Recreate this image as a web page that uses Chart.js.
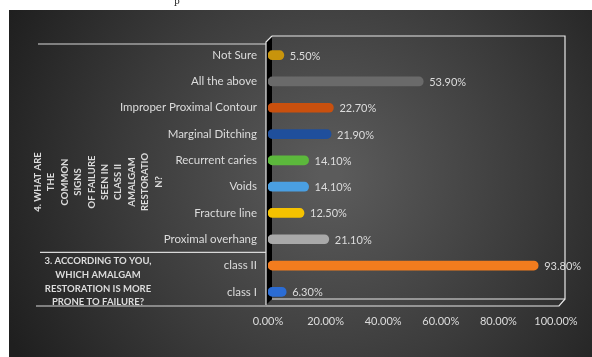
<!DOCTYPE html>
<html>
<head>
<meta charset="utf-8">
<script src="https://cdn.jsdelivr.net/npm/chart.js@4/dist/chart.umd.min.js"></script>
<style>
  html, body { margin: 0; padding: 0; background: #fff; }
  canvas { display: block; }
</style>
</head>
<body>
<canvas id="failureChart" width="592" height="357"></canvas>
<script>
// data, top row first
const categories = [
    'Not Sure',
    'All the above',
    'Improper Proximal Contour',
    'Marginal Ditching',
    'Recurrent caries',
    'Voids',
    'Fracture line',
    'Proximal overhang',
    'class II',
    'class I'
];
const percentValues = [5.5, 53.9, 22.7, 21.9, 14.1, 14.1, 12.5, 21.1, 93.8, 6.3];
const barColors = [
    '#c8940c', '#6a6a6a', '#c9500e', '#1f4f9c', '#5cb83c',
    '#4a9fe2', '#f5c200', '#a9a9a9', '#f27c1e', '#2b6cd4'
];
const xTicks = [0, 20, 40, 60, 80, 100];

const groupOneLines = ['4. WHAT ARE', 'THE', 'COMMON', 'SIGNS', 'OF FAILURE',
    'SEEN IN', 'CLASS II', 'AMALGAM', 'RESTORATIO', 'N?'];
const groupTwoLines = ['3. ACCORDING TO YOU,', 'WHICH AMALGAM',
    'RESTORATION IS MORE', 'PRONE TO FAILURE?'];

const textColor = '#dcdcdc';
const fontFamily = 'Lato, "Open Sans", sans-serif';

// dark radial backdrop with the white page margin
const backdrop = {
    id: 'backdrop',
    beforeDraw(chart) {
        const ctx = chart.ctx;
        ctx.save();
        ctx.fillStyle = '#ffffff';
        ctx.fillRect(0, 0, chart.width, chart.height);
        const g = ctx.createRadialGradient(330, 175, 10, 330, 175, 360);
        g.addColorStop(0, '#5b5b5b');
        g.addColorStop(0.55, '#3b3b3b');
        g.addColorStop(1, '#1f1f1f');
        ctx.fillStyle = g;
        ctx.fillRect(9, 10, chart.width - 9, chart.height - 10);
        // bit of the page text above
        ctx.fillStyle = '#222';
        ctx.font = '9px "DejaVu Serif", serif';
        ctx.textBaseline = 'alphabetic';
        ctx.fillText('p', 174, 4);
        ctx.restore();
    }
};

// 3D-ish frame: black side wall, back frame, floor
const frame3d = {
    id: 'frame3d',
    beforeDatasetsDraw(chart) {
        const ctx = chart.ctx;
        const a = chart.chartArea;
        const dx = 6, dy = 6;
        const x0 = a.left - 2, top = a.top;
        ctx.save();
        // side wall
        ctx.fillStyle = '#000';
        ctx.beginPath();
        ctx.moveTo(x0, top);
        ctx.lineTo(x0 + dx, top - dy);
        ctx.lineTo(x0 + dx, a.bottom - dy);
        ctx.lineTo(x0, a.bottom);
        ctx.closePath();
        ctx.fill();
        ctx.strokeStyle = '#e8e8e8';
        ctx.lineWidth = 1.2;
        // back frame
        ctx.beginPath();
        ctx.moveTo(x0 + dx, top - dy);
        ctx.lineTo(a.right + 9, top - dy);
        ctx.lineTo(a.right + 9, a.bottom - dy);
        ctx.lineTo(x0 + dx, a.bottom - dy);
        ctx.stroke();
        // wall front edge
        ctx.beginPath();
        ctx.moveTo(x0 + dx, top - dy);
        ctx.lineTo(x0, top);
        ctx.lineTo(x0, a.bottom);
        ctx.stroke();
        // floor front edge
        ctx.beginPath();
        ctx.moveTo(x0, a.bottom + 1);
        ctx.lineTo(a.right + 3, a.bottom + 1);
        ctx.lineTo(a.right + 9, a.bottom - dy);
        ctx.stroke();
        // group separators on the category axis
        ctx.strokeStyle = '#d8d8d8';
        ctx.beginPath();
        ctx.moveTo(38, top + 2);
        ctx.lineTo(x0, top + 2);
        const y = chart.scales.y;
        const sep = (y.getPixelForValue(7) + y.getPixelForValue(8)) / 2;
        ctx.moveTo(40, sep);
        ctx.lineTo(x0, sep);
        ctx.moveTo(36, a.bottom + 1);
        ctx.lineTo(x0, a.bottom + 1);
        ctx.stroke();
        ctx.restore();
    }
};

// values next to bars and the grouped axis titles
const annotations = {
    id: 'annotations',
    afterDatasetsDraw(chart) {
        const ctx = chart.ctx;
        const meta = chart.getDatasetMeta(0);
        ctx.save();
        ctx.fillStyle = textColor;
        ctx.font = '11px ' + fontFamily;
        ctx.textBaseline = 'middle';
        ctx.textAlign = 'left';
        meta.data.forEach((bar, i) => {
            ctx.fillText(percentValues[i].toFixed(2) + '%', bar.x + 6, bar.y + 1);
        });

        ctx.font = 'bold 9.5px ' + fontFamily;
        ctx.textAlign = 'center';
        // rotated group title
        groupOneLines.forEach((line, i) => {
            ctx.save();
            ctx.translate(38 + i * 13.4, 182);
            ctx.rotate(-Math.PI / 2);
            ctx.fillText(line, 0, 0);
            ctx.restore();
        });
        groupTwoLines.forEach((line, i) => {
            ctx.fillText(line, 98, 261 + i * 13.8);
        });
        ctx.restore();
    }
};

new Chart(document.getElementById('failureChart'), {
    type: 'bar',
    data: {
        labels: categories,
        datasets: [{
            data: percentValues,
            backgroundColor: barColors,
            borderRadius: 4.5,
            borderSkipped: false,
            barThickness: 9
        }]
    },
    options: {
        indexAxis: 'y',
        responsive: false,
        animation: false,
        layout: { padding: { left: 0, top: 42, right: 36, bottom: 20 } },
        plugins: {
            legend: { display: false },
            tooltip: { enabled: false }
        },
        scales: {
            x: {
                min: 0,
                max: 100,
                afterBuildTicks(scale) {
                    scale.ticks = xTicks.map(v => ({ value: v }));
                },
                afterFit(scale) { scale.height = 32; },
                grid: { display: false, drawTicks: false },
                border: { display: false },
                ticks: {
                    color: textColor,
                    padding: 10,
                    font: { family: fontFamily, size: 11 },
                    callback: v => v.toFixed(2) + '%'
                }
            },
            y: {
                afterFit(scale) { scale.width = 268; },
                grid: { display: false, drawTicks: false },
                border: { display: false },
                ticks: {
                    color: textColor,
                    padding: 11,
                    font: { family: fontFamily, size: 11.5 }
                }
            }
        }
    },
    plugins: [backdrop, frame3d, annotations]
});
</script>
</body>
</html>
